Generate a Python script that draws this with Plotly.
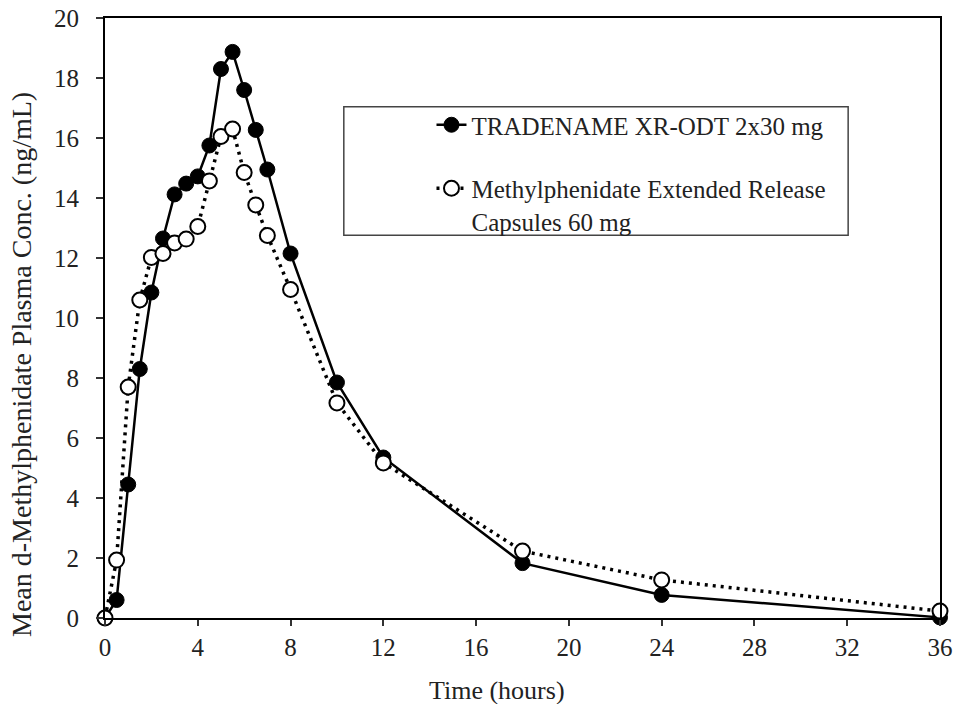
import plotly.graph_objects as go

time_h = [0, 0.5, 1, 1.5, 2, 2.5, 3, 3.5, 4, 4.5, 5, 5.5, 6, 6.5, 7, 8, 10, 12, 18, 24, 36]
odt_conc = [0, 0.6, 4.45, 8.3, 10.85, 12.65, 14.12, 14.48, 14.72, 15.75, 18.3, 18.87, 17.6, 16.27, 14.95, 12.15, 7.85, 5.35, 1.83, 0.77, 0.02]
er_conc = [0, 1.93, 7.7, 10.6, 12.02, 12.15, 12.5, 12.63, 13.05, 14.57, 16.05, 16.3, 14.85, 13.77, 12.75, 10.95, 7.17, 5.17, 2.23, 1.27, 0.23]

name_odt = "TRADENAME XR-ODT 2x30 mg"
name_er = "Methylphenidate Extended Release<br>Capsules 60 mg"
x_title = "Time (hours)"
y_title = "Mean d-Methylphenidate Plasma Conc. (ng/mL)"

x_ticks = [0, 4, 8, 12, 16, 20, 24, 28, 32, 36]
y_ticks = [0, 2, 4, 6, 8, 10, 12, 14, 16, 18, 20]

FONT = "Liberation Serif, Times New Roman, serif"

fig = go.Figure()
fig.add_trace(go.Scatter(
    x=time_h, y=odt_conc, name=name_odt, mode="lines+markers",
    line=dict(color="black", width=2.5),
    marker=dict(symbol="circle", size=15, color="black", line=dict(color="black", width=1)),
    cliponaxis=False, legendgroup="a"))
fig.add_trace(go.Scatter(
    x=time_h, y=er_conc, name=name_er, mode="lines+markers",
    line=dict(color="black", width=3.5, dash="3px,5px"),
    marker=dict(symbol="circle", size=15, color="white", line=dict(color="black", width=2)),
    cliponaxis=False, legendgroup="b"))

fig.update_layout(
    width=955, height=704,
    margin=dict(l=105, r=15, t=18, b=86),
    paper_bgcolor="white", plot_bgcolor="white",
    font=dict(family=FONT, color="#222", size=25),
    showlegend=True,
    legend=dict(x=0.391, y=0.86, xanchor="left", yanchor="top",
                font=dict(size=25, family=FONT), bgcolor="rgba(0,0,0,0)",
                tracegroupgap=28, valign="top", traceorder="grouped"),
    shapes=[dict(type="rect", xref="paper", yref="paper",
                 x0=0.286, x1=0.89, y0=0.638, y1=0.852,
                 line=dict(color="#444", width=1.5))],
    annotations=[
        dict(text=y_title, xref="paper", yref="paper", x=-0.0994, y=0.4217,
             textangle=-90, showarrow=False, font=dict(size=28),
             xanchor="center", yanchor="middle"),
        dict(text=x_title, xref="paper", yref="paper", x=0.470, y=-0.12,
             showarrow=False, font=dict(size=26),
             xanchor="center", yanchor="middle"),
    ],
)
fig.update_xaxes(range=[0, 36], tickvals=x_ticks, ticks="outside", ticklen=6, tickwidth=1.5,
                 tickcolor="#333", ticklabelstandoff=0, ticklabeloverflow="allow",
                 showline=True, linecolor="black", linewidth=2, mirror=True,
                 showgrid=False, zeroline=False, automargin=False)
fig.update_yaxes(range=[0, 20], tickvals=y_ticks, ticks="outside", ticklen=7, tickwidth=1.5,
                 tickcolor="#333", ticklabelstandoff=12, ticklabeloverflow="allow",
                 showline=True, linecolor="black", linewidth=2, mirror=True,
                 showgrid=False, zeroline=False, automargin=False)

fig.write_html("out.html", config={"displayModeBar": False},
               post_script="document.body.style.margin='0';")
